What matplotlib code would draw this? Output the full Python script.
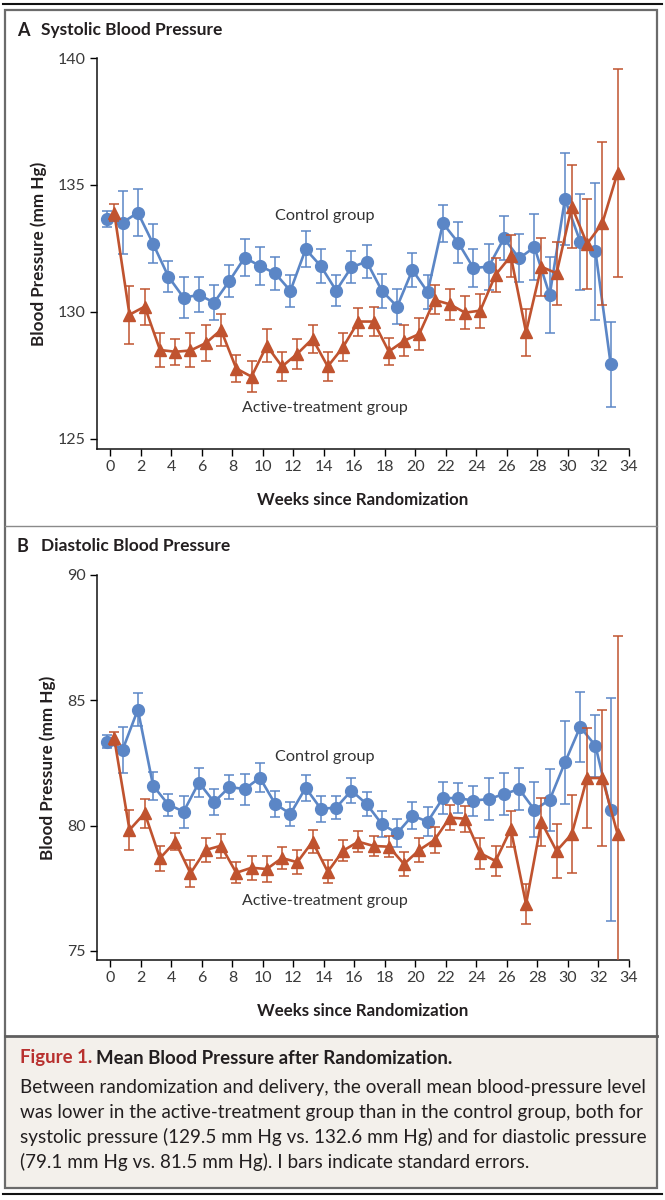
import matplotlib
matplotlib.use("Agg")
import matplotlib.pyplot as plt
from matplotlib.patches import Rectangle
from matplotlib.lines import Line2D
import numpy as np

plt.rcParams['font.family'] = ['Lato', 'DejaVu Sans']

weeks = np.arange(34)

sys_ctrl = [133.66, 133.52, 133.91, 132.68, 131.39, 130.56, 130.67, 130.37, 131.22, 132.14,
            131.81, 131.52, 130.83, 132.47, 131.80, 130.84, 131.76, 131.98, 130.83, 130.21,
            131.65, 130.78, 133.49, 132.73, 131.73, 131.78, 132.90, 132.11, 132.55, 130.66,
            134.44, 132.77, 132.39, 127.94]
sys_ctrl_se = [0.33, 1.23, 0.93, 0.77, 0.60, 0.81, 0.69, 0.68, 0.62, 0.72,
               0.74, 0.66, 0.64, 0.70, 0.66, 0.62, 0.62, 0.66, 0.66, 0.68,
               0.66, 0.66, 0.72, 0.82, 0.75, 0.90, 0.87, 0.95, 1.31, 1.50,
               1.82, 1.89, 2.69, 1.67]
sys_trt = [133.91, 129.89, 130.21, 128.50, 128.43, 128.48, 128.77, 129.29, 127.77, 127.45,
           128.67, 127.85, 128.35, 128.94, 127.85, 128.61, 129.62, 129.62, 128.44, 128.86,
           129.13, 130.47, 130.30, 129.97, 130.05, 131.46, 132.20, 129.20, 131.78, 131.52,
           134.15, 132.68, 133.49, 135.48]
sys_trt_se = [0.32, 1.14, 0.71, 0.67, 0.51, 0.67, 0.70, 0.62, 0.55, 0.61,
              0.66, 0.59, 0.58, 0.56, 0.58, 0.56, 0.55, 0.56, 0.53, 0.61,
              0.62, 0.57, 0.62, 0.66, 0.67, 0.66, 0.83, 0.92, 1.15, 1.23,
              1.64, 1.76, 3.20, 4.10]

dia_ctrl = [83.35, 83.03, 84.63, 81.59, 80.84, 80.56, 81.72, 80.94, 81.54, 81.46,
            81.91, 80.87, 80.47, 81.51, 80.67, 80.72, 81.40, 80.86, 80.06, 79.70,
            80.40, 80.16, 81.10, 81.10, 81.00, 81.06, 81.26, 81.46, 80.63, 81.03,
            82.52, 83.94, 83.19, 80.63]
dia_ctrl_se = [0.25, 0.92, 0.65, 0.56, 0.44, 0.64, 0.57, 0.53, 0.48, 0.62,
               0.57, 0.52, 0.49, 0.53, 0.53, 0.47, 0.50, 0.49, 0.53, 0.57,
               0.53, 0.59, 0.63, 0.61, 0.60, 0.85, 0.83, 0.83, 1.10, 1.25,
               1.64, 1.41, 1.23, 4.45]
dia_trt = [83.48, 79.83, 80.50, 78.70, 79.36, 78.10, 79.03, 79.20, 78.12, 78.32,
           78.27, 78.71, 78.54, 79.36, 78.16, 79.00, 79.36, 79.19, 79.16, 78.47,
           79.03, 79.43, 80.32, 80.28, 78.90, 78.59, 79.86, 76.87, 80.15, 78.99,
           79.67, 81.90, 81.90, 79.67]
dia_trt_se = [0.25, 0.81, 0.58, 0.50, 0.35, 0.53, 0.49, 0.48, 0.41, 0.47,
              0.52, 0.45, 0.47, 0.45, 0.45, 0.41, 0.41, 0.40, 0.41, 0.48,
              0.47, 0.51, 0.50, 0.52, 0.61, 0.59, 0.72, 0.81, 0.96, 1.09,
              1.56, 1.99, 2.70, 7.89]

panels = [
    ("A", "Systolic Blood Pressure", sys_ctrl, sys_ctrl_se, sys_trt, sys_trt_se,
     (124.6, 140), [125, 130, 135, 140]),
    ("B", "Diastolic Blood Pressure", dia_ctrl, dia_ctrl_se, dia_trt, dia_trt_se,
     (74.64, 90), [75, 80, 85, 90]),
]

blue = "#5b86c6"
red = "#c0532f"
txt = "#231f20"

W, H = 665, 1200
fig = plt.figure(figsize=(W / 100, H / 100), dpi=100)

def fx(px):
    return px / W

def fy(py):
    return 1 - py / H

# frame and caption background
fig.patches.append(Rectangle((fx(5), fy(1188)), fx(652), fy(1037) - fy(1188),
                             transform=fig.transFigure, facecolor="#f3f0eb", edgecolor="none", zorder=0))
fig.patches.append(Rectangle((fx(5), fy(1188)), fx(652), fy(9.5) - fy(1188),
                             transform=fig.transFigure, facecolor="none", edgecolor="#6b6b6b",
                             linewidth=1.6, zorder=1))
fig.lines.append(Line2D([fx(3), fx(662)], [fy(3.5), fy(3.5)], transform=fig.transFigure,
                        color="#111111", linewidth=1.5))
fig.lines.append(Line2D([fx(3), fx(662)], [fy(1194), fy(1194)], transform=fig.transFigure,
                        color="#111111", linewidth=1.5))
fig.lines.append(Line2D([fx(5), fx(657)], [fy(525.5), fy(525.5)], transform=fig.transFigure,
                        color="#8a8a8a", linewidth=1.0))
fig.lines.append(Line2D([fx(5), fx(657)], [fy(1036), fy(1036)], transform=fig.transFigure,
                        color="#5f5f5f", linewidth=2.0))

ax_boxes = [(97, 58, 629, 449), (97, 575, 629, 960)]
title_y = [30, 546]
ctrl_lab_y = [216, 757]
trt_lab_y = [408, 901]

for k, (letter, title, c, cse, t, tse, ylim, yticks) in enumerate(panels):
    x0, y0, x1, y1 = ax_boxes[k]
    ax = fig.add_axes([fx(x0), fy(y1), fx(x1 - x0), fy(y0) - fy(y1)])
    ax.errorbar(weeks - 0.2, c, yerr=cse, color=blue, ecolor=blue, marker="o", markersize=8.5,
                linewidth=1.9, elinewidth=1.1, capsize=3.5, capthick=1.1, zorder=3)
    ax.errorbar(weeks + 0.25, t, yerr=tse, color=red, ecolor=red, marker="^", markersize=9,
                linewidth=1.9, elinewidth=1.1, capsize=3.5, capthick=1.1, zorder=4)
    ax.set_xlim(-0.88, 34)
    ax.set_ylim(*ylim)
    ax.set_xticks(np.arange(0, 35, 2))
    ax.set_yticks(yticks)
    for s in ["top", "right"]:
        ax.spines[s].set_visible(False)
    for s in ["left", "bottom"]:
        ax.spines[s].set_linewidth(1.1)
        ax.spines[s].set_color("#111111")
    ax.tick_params(direction="out", length=5, width=1.0, labelsize=11.5,
                   labelcolor="#3a3a3a", pad=3)
    ax.set_ylabel("Blood Pressure (mm Hg)", fontsize=12.3, fontweight="bold", color=txt, labelpad=8)
    ax.set_xlabel("Weeks since Randomization", fontsize=12.2, fontweight="bold", color=txt, labelpad=13)
    fig.text(fx(325), fy(ctrl_lab_y[k]), "Control group", ha="center", va="center",
             fontsize=11.7, color="#333333")
    fig.text(fx(325), fy(trt_lab_y[k]), "Active-treatment group", ha="center", va="center",
             fontsize=11.5, color="#333333")
    fig.text(fx(17), fy(title_y[k]), letter, ha="left", va="center", fontsize=13,
             fontweight="bold", color=txt)
    fig.text(fx(41), fy(title_y[k]), title, ha="left", va="center", fontsize=12.5,
             fontweight="bold", color=txt)

# caption
r = fig.canvas.get_renderer()
t1 = fig.text(fx(20), fy(1058), "Figure 1.", ha="left", va="center", fontsize=13.4,
              fontweight="bold", color="#b8312f")
bb = t1.get_window_extent(r)
fig.text(bb.x1 / W + fx(4), fy(1058), "Mean Blood Pressure after Randomization.", ha="left",
         va="center", fontsize=13.4, fontweight="bold", color=txt)
caption_lines = [
    "Between randomization and delivery, the overall mean blood-pressure level",
    "was lower in the active-treatment group than in the control group, both for",
    "systolic pressure (129.5 mm Hg vs. 132.6 mm Hg) and for diastolic pressure",
    "(79.1 mm Hg vs. 81.5 mm Hg). I bars indicate standard errors.",
]
for i, line in enumerate(caption_lines):
    fig.text(fx(20), fy(1088 + 24.5 * i), line, ha="left", va="center", fontsize=13.6,
             color=txt)

fig.savefig("out.png", dpi=100)
